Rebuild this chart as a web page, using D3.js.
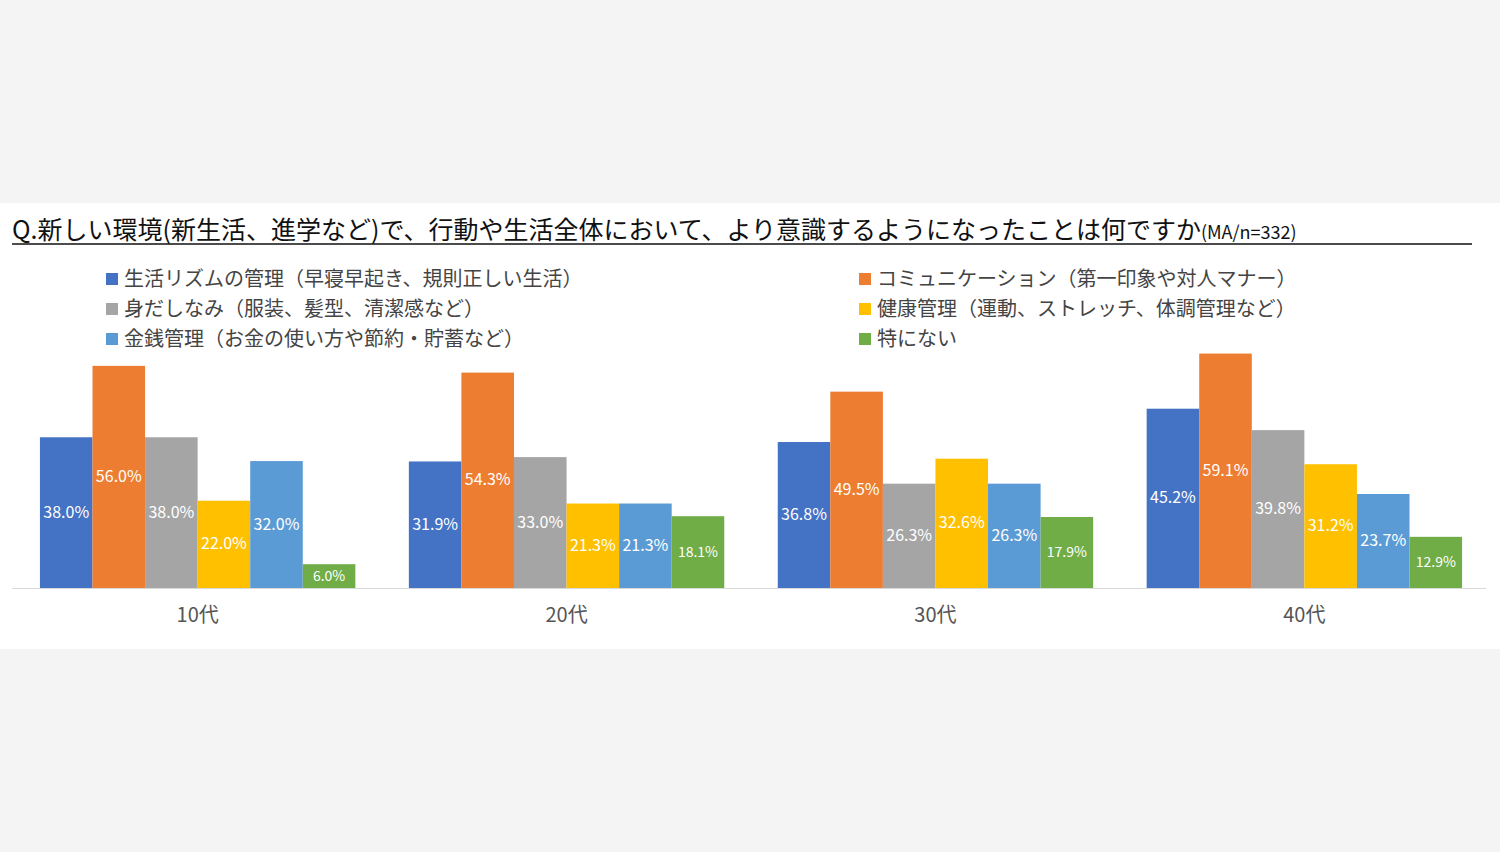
<!DOCTYPE html>
<html>
<head>
<meta charset="utf-8" />
<style>
  body { margin: 0; background: #f4f4f4; }
  svg { display: block; font-family: "Noto Sans CJK JP", "Noto Sans", sans-serif; }
</style>
</head>
<body>
<svg id="chart" width="1500" height="852"></svg>
<script src="https://cdn.jsdelivr.net/npm/d3@7"></script>
<script>
const ages = ["10代", "20代", "30代", "40代"];
const seriesNames = [
  "生活リズムの管理（早寝早起き、規則正しい生活）",
  "コミュニケーション（第一印象や対人マナー）",
  "身だしなみ（服装、髪型、清潔感など）",
  "健康管理（運動、ストレッチ、体調管理など）",
  "金銭管理（お金の使い方や節約・貯蓄など）",
  "特にない"
];
const colors = ["#4472C4", "#ED7D31", "#A5A5A5", "#FFC000", "#5B9BD5", "#70AD47"];
// values[age][series]
const values = [
  [38.0, 56.0, 38.0, 22.0, 32.0, 6.0],
  [31.9, 54.3, 33.0, 21.3, 21.3, 18.1],
  [36.8, 49.5, 26.3, 32.6, 26.3, 17.9],
  [45.2, 59.1, 39.8, 31.2, 23.7, 12.9]
];

const svg = d3.select("#chart");
svg.append("rect").attr("x", 0).attr("y", 203).attr("width", 1500).attr("height", 446).attr("fill", "#fff");

// title
const title = svg.append("text").attr("x", 12).attr("y", 239).attr("fill", "#111");
title.append("tspan").attr("font-size", 25).text("Q.新しい環境(新生活、進学など)で、行動や生活全体において、より意識するようになったことは何ですか");
title.append("tspan").attr("font-size", 18).text("(MA/n=332)");
svg.append("line").attr("x1", 12).attr("x2", 1472).attr("y1", 244).attr("y2", 244).attr("stroke", "#111").attr("stroke-width", 1.5);

// legend: left column series 0,2,4; right column 1,3,5
const legend = svg.append("g");
seriesNames.forEach((name, i) => {
  const col = i % 2, row = Math.floor(i / 2);
  const g = legend.append("g").attr("transform", `translate(${col ? 859 : 106},${279 + row * 30})`);
  g.append("rect").attr("x", 0).attr("y", -6).attr("width", 12).attr("height", 12).attr("fill", colors[i]);
  g.append("text").attr("x", 18).attr("y", 7).attr("font-size", 20).attr("fill", "#444").text(name);
});

const x0 = d3.scaleBand().domain(ages).range([13, 1489]).paddingInner(0.145).paddingOuter(0.073);
const x1 = d3.scaleBand().domain(d3.range(6)).range([0, x0.bandwidth()]);
const y = d3.scaleLinear().domain([0, 60]).range([588, 350]);

const groups = svg.append("g").selectAll("g").data(values).join("g")
  .attr("transform", (d, i) => `translate(${x0(ages[i])},0)`);

groups.selectAll("rect").data(d => d).join("rect")
  .attr("x", (d, i) => x1(i)).attr("width", x1.bandwidth())
  .attr("y", d => y(d)).attr("height", d => y(0) - y(d))
  .attr("fill", (d, i) => colors[i]);

groups.selectAll("text").data(d => d).join("text")
  .attr("x", (d, i) => x1(i) + x1.bandwidth() / 2)
  .attr("y", d => (y(d) + y(0)) / 2 + 5)
  .attr("text-anchor", "middle").attr("font-size", d => d < 20 ? 14 : 16)
  .attr("fill", "#fff").text(d => d.toFixed(1) + "%");

svg.append("line").attr("x1", 12).attr("x2", 1486).attr("y1", 588.5).attr("y2", 588.5).attr("stroke", "#d9d9d9");
const xAxis = svg.append("g").attr("transform", "translate(0,588)")
  .call(d3.axisBottom(x0).tickSize(0).tickPadding(20));
xAxis.select(".domain").remove();
xAxis.selectAll("text").attr("font-size", 20).attr("fill", "#555").attr("font-family", "Noto Sans CJK JP");
</script>
</body>
</html>
